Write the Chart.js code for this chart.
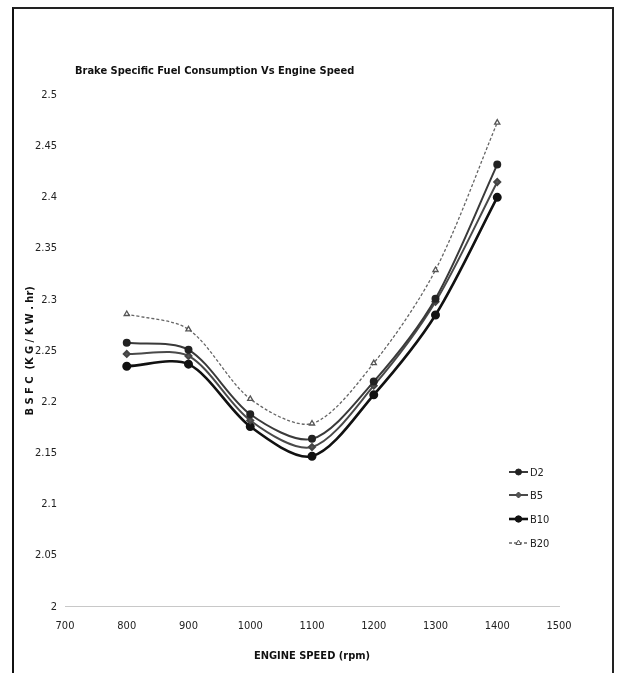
<!DOCTYPE html>
<html>
<head>
<meta charset="utf-8">
<script src="https://cdn.jsdelivr.net/npm/chart.js@4.4.1/dist/chart.umd.min.js"></script>
<style>
  html, body { margin: 0; padding: 0; background: #fff; }
  #wrap { position: relative; width: 618px; height: 681px; }
  #frame { position: absolute; left: 12px; top: 7px; width: 598px; height: 664px;
           border-left: 2px solid #111; border-top: 2px solid #222; border-right: 2px solid #222; }
  canvas { position: absolute; left: 0; top: 0; }
</style>
</head>
<body>
<div id="wrap">
  <canvas id="bsfcChart" width="618" height="681"></canvas>
  <div id="frame"></div>
</div>
<script>
// engine speed (rpm)
const speeds = [800, 900, 1000, 1100, 1200, 1300, 1400];

// BSFC (kg/kW.hr) per fuel blend
const d2  = [2.258, 2.251, 2.188, 2.164, 2.220, 2.301, 2.432];
const b5  = [2.247, 2.245, 2.182, 2.156, 2.216, 2.298, 2.415];
const b10 = [2.235, 2.237, 2.176, 2.147, 2.207, 2.285, 2.400];
const b20 = [2.286, 2.271, 2.203, 2.179, 2.238, 2.329, 2.473];

const seriesNames = ['D2', 'B5', 'B10', 'B20'];

const narrow = "'DejaVu Sans Condensed', 'Liberation Sans', sans-serif";

function pts(vals) {
    return speeds.map((s, i) => ({ x: s, y: vals[i] }));
}

// title + legend drawn on the canvas
const extras = {
    id: 'extras',
    afterDraw(chart) {
        const ctx = chart.ctx;
        ctx.save();
        ctx.fillStyle = '#111';
        ctx.font = "bold 11px " + narrow;
        ctx.textBaseline = 'middle';
        ctx.textAlign = 'left';
        ctx.fillText('Brake Specific Fuel Consumption Vs Engine Speed', 75, 71);

        const rows = [472, 495, 519, 543];
        chart.data.datasets.forEach((ds, i) => {
            const y = rows[i];
            ctx.strokeStyle = ds.borderColor;
            ctx.lineWidth = ds.borderWidth;
            ctx.setLineDash(ds.borderDash || []);
            ctx.beginPath();
            ctx.moveTo(509, y);
            ctx.lineTo(528, y);
            ctx.stroke();
            ctx.setLineDash([]);
            ctx.fillStyle = ds.backgroundColor;
            ctx.strokeStyle = ds.pointBorderColor;
            ctx.lineWidth = 1;
            Chart.helpers.drawPoint(ctx, {
                pointStyle: ds.pointStyle,
                radius: ds.pointRadius,
                borderWidth: 1
            }, 518.5, y);
            ctx.fillStyle = '#222';
            ctx.font = "11px " + narrow;
            ctx.fillText(seriesNames[i], 530, y + 1);
        });
        ctx.restore();
    }
};

const ctx = document.getElementById('bsfcChart').getContext('2d');
new Chart(ctx, {
    type: 'line',
    data: {
        datasets: [
            {
                label: 'D2', data: pts(d2),
                borderColor: '#3a3a3a', backgroundColor: '#222', borderWidth: 2,
                pointStyle: 'circle', pointRadius: 3, pointBorderColor: '#222', tension: 0.3
            },
            {
                label: 'B5', data: pts(b5),
                borderColor: '#4a4a4a', backgroundColor: '#555', borderWidth: 2,
                pointStyle: 'rectRot', pointRadius: 3, pointBorderColor: '#444', tension: 0.3
            },
            {
                label: 'B10', data: pts(b10),
                borderColor: '#111', backgroundColor: '#111', borderWidth: 2.6,
                pointStyle: 'circle', pointRadius: 3.2, pointBorderColor: '#111', tension: 0.3
            },
            {
                label: 'B20', data: pts(b20),
                borderColor: '#666', backgroundColor: '#fff', borderWidth: 1.3, borderDash: [3, 2],
                pointStyle: 'triangle', pointRadius: 3, pointBorderColor: '#555', tension: 0.3
            }
        ]
    },
    options: {
        responsive: false,
        animation: false,
        layout: { padding: { top: 95, right: 59, left: 0, bottom: 0 } },
        plugins: { legend: { display: false }, tooltip: { enabled: false } },
        scales: {
            x: {
                type: 'linear', min: 700, max: 1500,
                afterFit: s => { s.height = 74.3; },
                grid: { display: false, drawTicks: false },
                border: { display: true, color: '#c8c8c8', width: 1, dash: [14, 48] },
                ticks: {
                    stepSize: 100, padding: 13, color: '#222',
                    font: { family: narrow, size: 11 },
                    callback: v => String(v)
                },
                title: {
                    display: true, text: 'ENGINE SPEED (rpm)', color: '#111',
                    font: { family: narrow, size: 11, weight: 'bold' },
                    padding: { top: 0, bottom: 18 }
                }
            },
            y: {
                min: 2, max: 2.5,
                afterFit: s => { s.width = 65; },
                grid: { display: false, drawTicks: false },
                border: { display: false },
                ticks: {
                    stepSize: 0.05, padding: 8, color: '#222',
                    font: { family: narrow, size: 11 },
                    callback: v => String(+v.toFixed(2))
                },
                title: {
                    display: true, text: 'B S F C  (K G / K W . hr)', color: '#111',
                    font: { family: narrow, size: 11, weight: 'bold' },
                    padding: { top: 24, bottom: 0 }
                }
            }
        }
    },
    plugins: [extras]
});
</script>
</body>
</html>
